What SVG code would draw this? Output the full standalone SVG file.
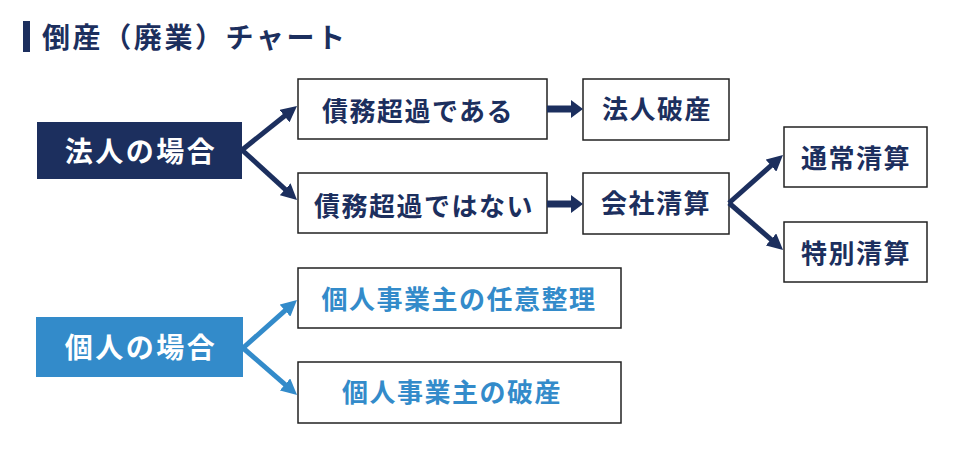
<svg xmlns="http://www.w3.org/2000/svg" width="975" height="466" viewBox="0 0 975 466">
<style>
text{font-family:"Noto Sans CJK JP","Noto Sans",sans-serif;font-weight:bold;}
.t{font-size:26px;letter-spacing:1.5px;text-anchor:middle;}
.navy{fill:#1c2f5e;}
.blue{fill:#338bca;}
.box{fill:#fff;stroke:#222;stroke-width:1.5;}
.head{fill:#fff;font-size:28px;letter-spacing:2.5px;text-anchor:middle;}
.cn{stroke:#1c2f5e;stroke-width:5;fill:none;}
.cb{stroke:#338bca;stroke-width:5;fill:none;}
.ch{stroke:#1c2f5e;stroke-width:7;fill:none;}
</style>
<defs>
<marker id="an" markerUnits="userSpaceOnUse" viewBox="0 0 16 16" markerWidth="16" markerHeight="16" refX="6" refY="8" orient="auto"><path d="M0,0 L16,8 L0,16 z" fill="#1c2f5e"/></marker>
<marker id="ab" markerUnits="userSpaceOnUse" viewBox="0 0 16 16" markerWidth="16" markerHeight="16" refX="6" refY="8" orient="auto"><path d="M0,0 L16,8 L0,16 z" fill="#338bca"/></marker>
<marker id="ah" markerUnits="userSpaceOnUse" viewBox="0 0 12 18" markerWidth="12" markerHeight="18" refX="6" refY="9" orient="auto"><path d="M0,0 L12,9 L0,18 z" fill="#1c2f5e"/></marker>
</defs>

<g id="title">
<rect x="23" y="21" width="7" height="31" class="navy"/>
<text x="42" y="48" font-size="28" letter-spacing="2.6" class="navy">倒産（廃業）チャート</text>
</g>

<g id="houjin">
<rect x="37" y="122" width="205" height="57" class="navy"/>
<text x="141" y="162" class="head">法人の場合</text>
</g>
<g id="saimu-aru">
<rect x="298" y="79" width="249" height="60" class="box"/>
<text x="418" y="121" class="t navy">債務超過である</text>
</g>
<g id="saimu-nai">
<rect x="298" y="173" width="249" height="60" class="box"/>
<text x="424" y="216" class="t navy">債務超過ではない</text>
</g>
<g id="houjin-hasan">
<rect x="583" y="79" width="146" height="61" class="box"/>
<text x="657" y="119" class="t navy">法人破産</text>
</g>
<g id="kaisha-seisan">
<rect x="583" y="173" width="146" height="61" class="box"/>
<text x="656" y="213" class="t navy">会社清算</text>
</g>
<g id="tsujo">
<rect x="784" y="127" width="143" height="60" class="box"/>
<text x="856" y="168" class="t navy">通常清算</text>
</g>
<g id="tokubetsu">
<rect x="784" y="222" width="143" height="60" class="box"/>
<text x="856" y="263" class="t navy">特別清算</text>
</g>

<g id="kojin">
<rect x="36" y="317" width="207" height="60" class="blue"/>
<text x="141" y="358" class="head">個人の場合</text>
</g>
<g id="nini">
<rect x="298" y="268" width="323" height="60" class="box"/>
<text x="459" y="309" class="t blue">個人事業主の任意整理</text>
</g>
<g id="kojin-hasan">
<rect x="298" y="362" width="323" height="61" class="box"/>
<text x="452" y="402" class="t blue">個人事業主の破産</text>
</g>

<g id="connectors">
<line class="cn" x1="242" y1="150" x2="289.2" y2="112.3" marker-end="url(#an)"/>
<line class="cn" x1="242" y1="150" x2="289.6" y2="193.3" marker-end="url(#an)"/>
<line class="cn" x1="729" y1="203" x2="775.5" y2="161.7" marker-end="url(#an)"/>
<line class="cn" x1="729" y1="203" x2="775.5" y2="243.4" marker-end="url(#an)"/>
<line class="cb" x1="243" y1="348" x2="289.5" y2="306.7" marker-end="url(#ab)"/>
<line class="cb" x1="243" y1="348" x2="289.5" y2="388.4" marker-end="url(#ab)"/>
<line class="ch" x1="547" y1="109" x2="577" y2="109" marker-end="url(#ah)"/>
<line class="ch" x1="547" y1="204" x2="577" y2="204" marker-end="url(#ah)"/>
</g>
</svg>
